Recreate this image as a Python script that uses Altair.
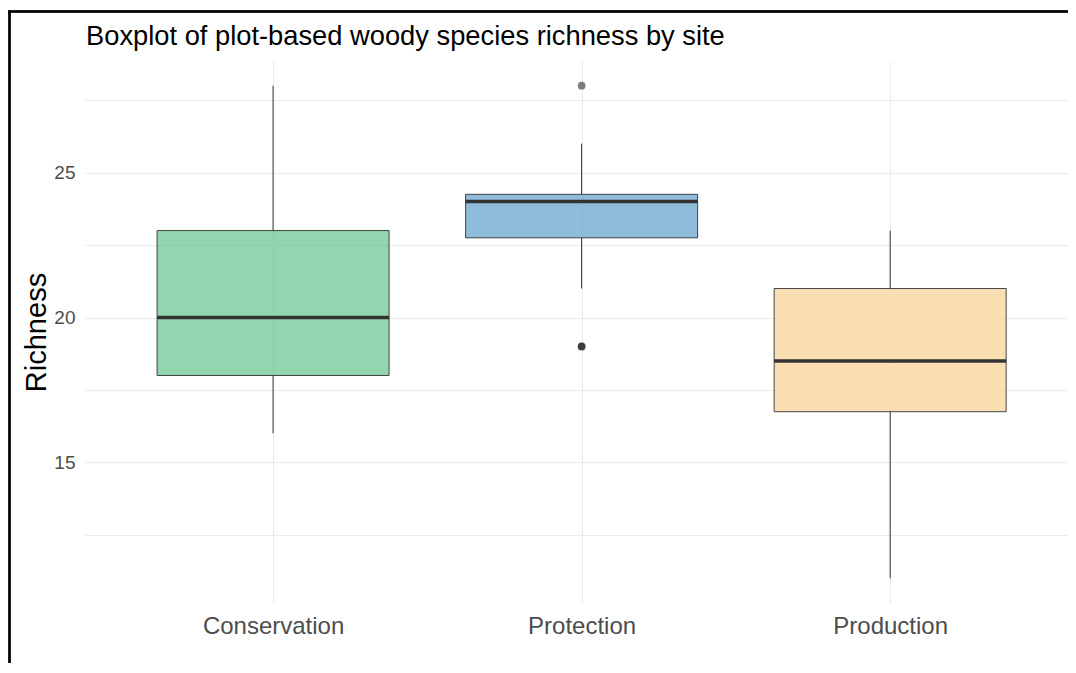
import altair as alt
import pandas as pd

sites = ["Conservation", "Protection", "Production"]
whisker_low = [16, 21, 11]
q1 = [18, 22.75, 16.75]
median = [20, 24, 18.5]
q3 = [23, 24.25, 21]
whisker_high = [28, 26, 23]
fills = ["#65C38B", "#61A0CD", "#F7D291"]

outlier_site = ["Protection", "Protection", "Protection"]
outlier_value = [28, 19, 19]

grid_values = [12.5, 15, 17.5, 20, 22.5, 25, 27.5]

box = pd.DataFrame({
    "site": sites, "lo": whisker_low, "q1": q1, "med": median,
    "q3": q3, "hi": whisker_high, "fill": fills,
})
outl = pd.DataFrame({"site": outlier_site, "value": outlier_value})

W, H = 983, 542
xscale = alt.Scale(type="point", domain=sites, padding=0.593, align=0.514)
yscale = alt.Scale(domain=[10.15, 28.85], nice=False, zero=False)

xenc = alt.X("site:N", scale=xscale, sort=sites, title=None,
             axis=alt.Axis(grid=True, gridColor="#EBEBEB", domain=False,
                           ticks=False, tickSize=0, labelAngle=0,
                           labelFontSize=24, labelColor="#4D4D4D",
                           labelFont="Liberation Sans",
                           labelBaseline="alphabetic", labelPadding=30))
yaxis = alt.Axis(values=grid_values, grid=True, gridColor="#EBEBEB",
                 domain=False, ticks=False, tickSize=0,
                 labelExpr="datum.value % 5 == 0 ? datum.label : ''",
                 labelFontSize=19, labelColor="#4D4D4D",
                 labelFont="Liberation Sans", labelPadding=10,
                 title="Richness", titleFontSize=29, titleColor="black",
                 titleFont="Liberation Sans", titleFontWeight="normal",
                 titleAngle=270, titleX=-40, titleY=H / 2,
                 titleAlign="center", titleBaseline="alphabetic")

base = alt.Chart(box)

lower = base.mark_rule(color="#333333", strokeWidth=1).encode(
    x=xenc, y=alt.Y("lo:Q", scale=yscale, axis=yaxis), y2="q1:Q")
upper = base.mark_rule(color="#333333", strokeWidth=1).encode(
    x="site:N", y="q3:Q", y2="hi:Q")
bars = base.mark_bar(size=232, fillOpacity=0.7, stroke="#333333",
                     strokeWidth=1, strokeOpacity=0.9).encode(
    x="site:N", y="q1:Q", y2="q3:Q",
    fill=alt.Fill("fill:N", scale=None))
med = base.mark_tick(size=232, thickness=3.5, color="#333333", opacity=1).encode(
    x="site:N", y="med:Q")
pts = alt.Chart(outl).mark_circle(size=60, color="black", opacity=0.5).encode(
    x="site:N", y="value:Q")

frame_v = alt.Chart(box).mark_rule(color="black", strokeWidth=2).encode(
    x=alt.value(-75.5), y=alt.value(-50.5), y2=alt.value(700))
frame_h = alt.Chart(box).mark_rule(color="black", strokeWidth=2).encode(
    y=alt.value(-49.5), x=alt.value(-76.5), x2=alt.value(1100))

chart = alt.layer(lower, upper, bars, med, pts, frame_v, frame_h).properties(
    width=W, height=H,
    autosize=alt.AutoSizeParams(type="none"),
    padding={"left": 77, "top": 53, "right": 0, "bottom": 60},
    title=alt.Title("Boxplot of plot-based woody species richness by site",
                    anchor="start", frame="group", fontSize=27.3,
                    font="Liberation Sans", fontWeight="normal",
                    color="black", dx=1, offset=-41),
).configure(background="white").configure_view(stroke=None)

chart.save("out.html", embed_options={"renderer": "svg", "actions": False})
